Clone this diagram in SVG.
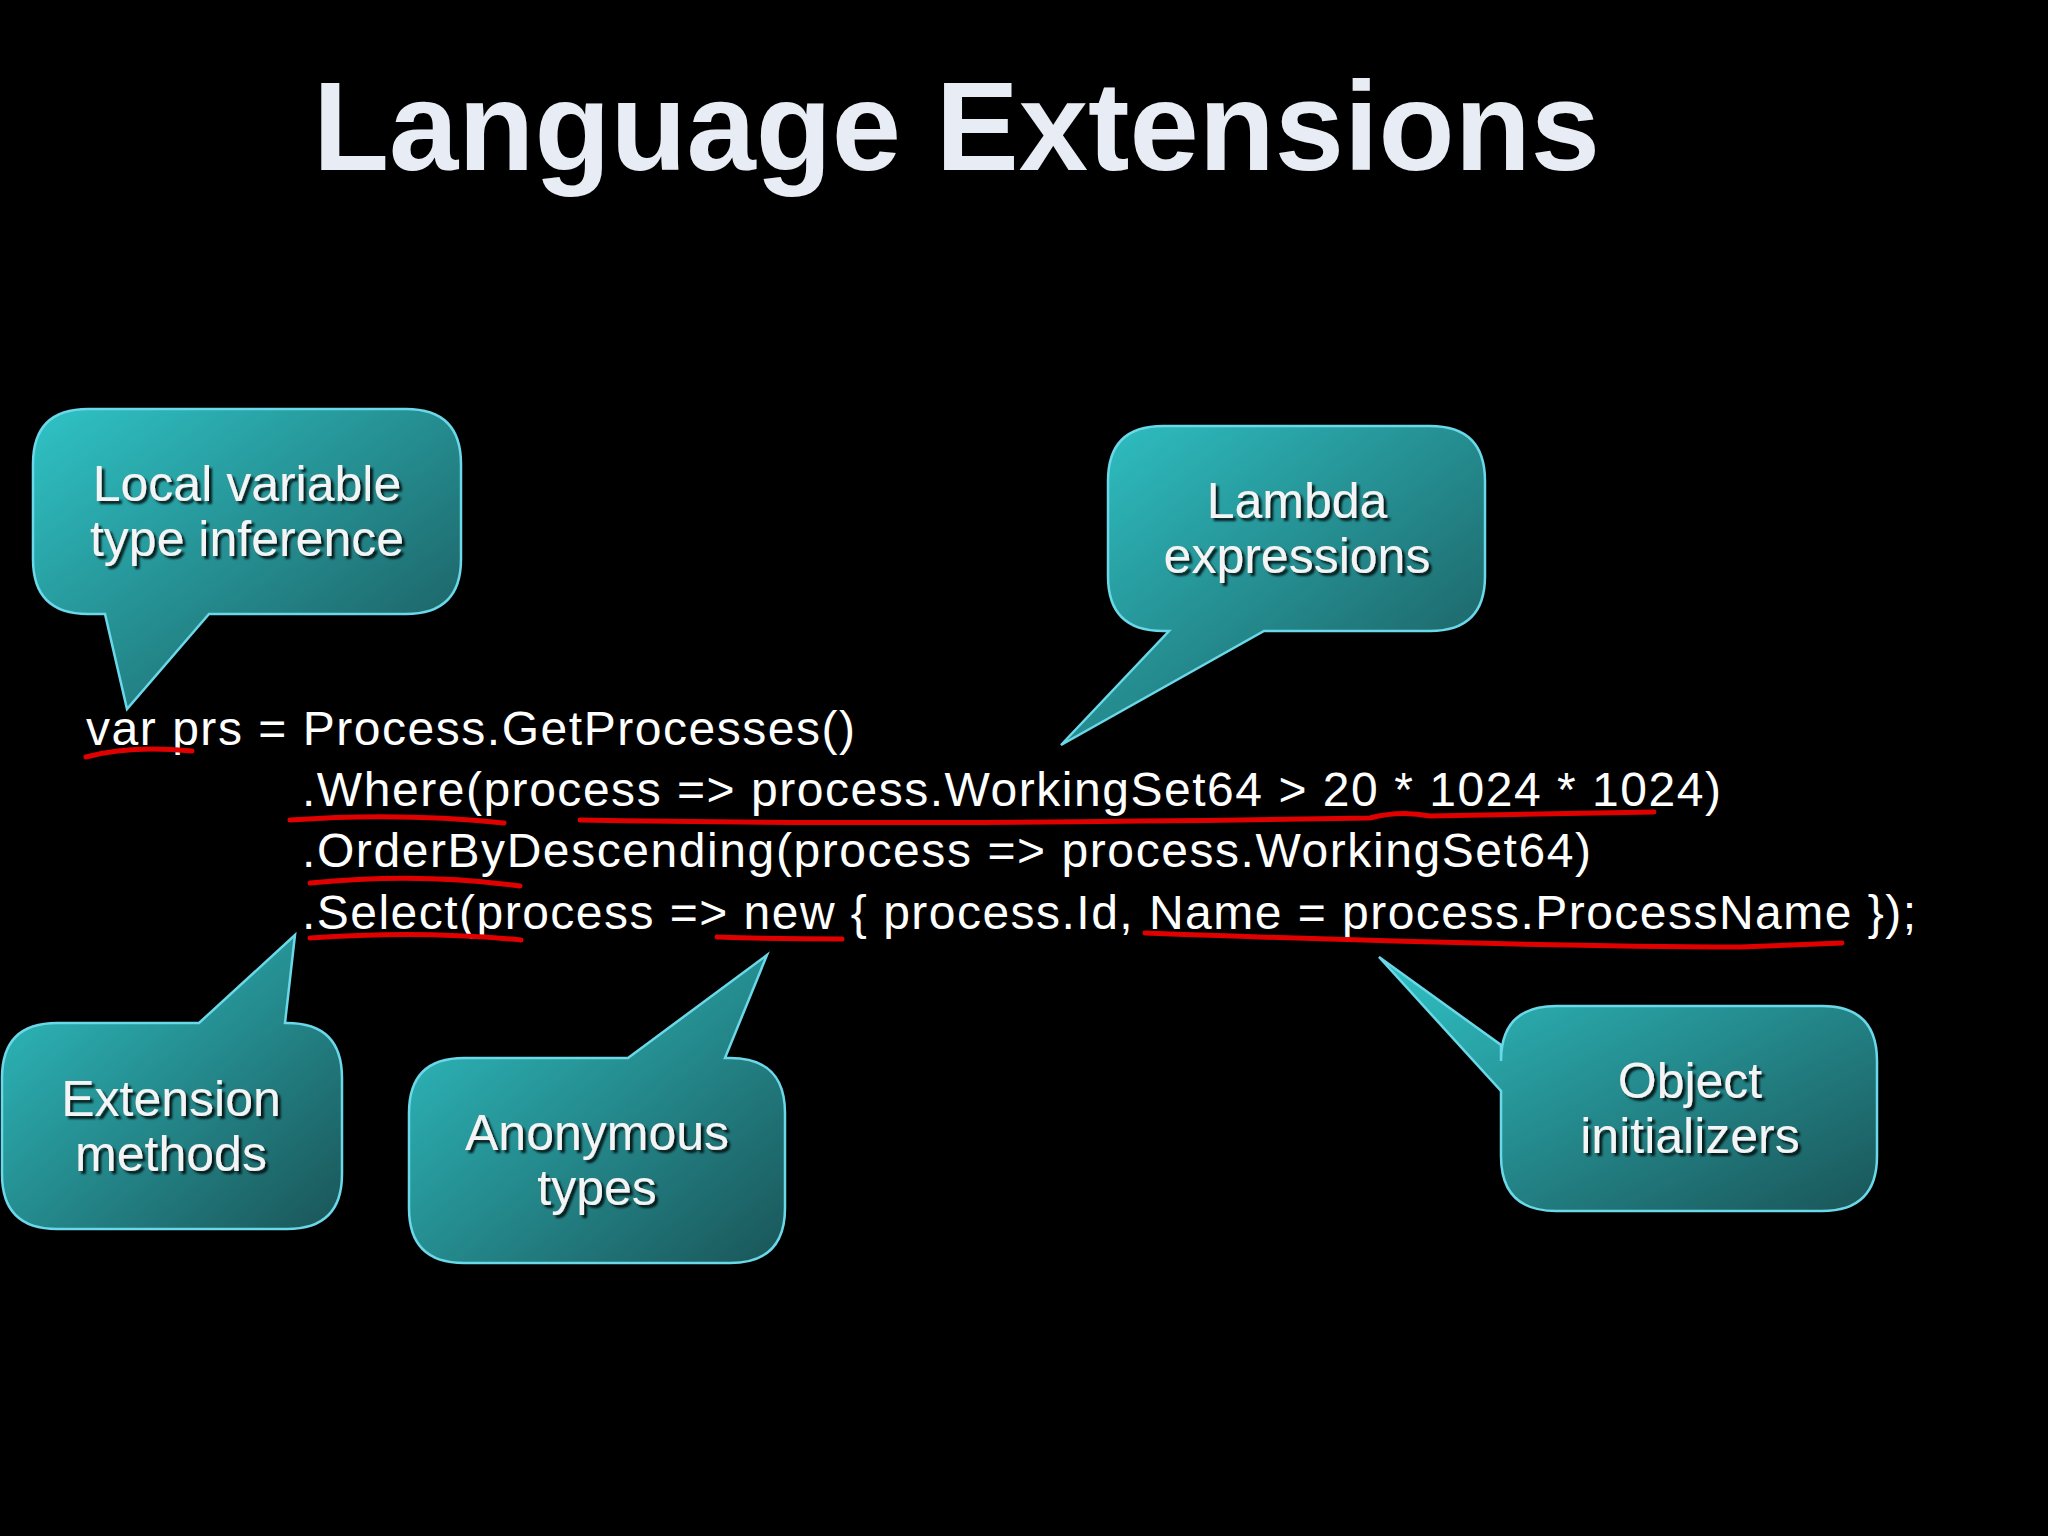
<svg xmlns="http://www.w3.org/2000/svg" width="2048" height="1536" viewBox="0 0 2048 1536">
<defs>
<linearGradient id="g" x1="0" y1="0" x2="1" y2="1">
<stop offset="0" stop-color="#2fc3c6"/><stop offset="1" stop-color="#1a5558"/>
</linearGradient>
<filter id="sh" x="-10%" y="-10%" width="120%" height="130%"><feDropShadow dx="3" dy="3" stdDeviation="1" flood-color="#000" flood-opacity="0.8"/></filter>
</defs>
<style>
.bub{fill:url(#g);stroke:#6ad8e8;stroke-width:2.5}
.bt{font-family:"Liberation Sans",Arial,sans-serif;font-size:50px;fill:#f4f4f4;text-anchor:middle;filter:url(#sh)}
.code{font-family:"Liberation Sans",Arial,sans-serif;font-size:48px;fill:#ffffff}
.ul{fill:none;stroke:#e00000;stroke-width:5;stroke-linecap:round}
</style>
<rect width="2048" height="1536" fill="#000"/>
<text x="313" y="170" font-family="Liberation Sans,Arial,sans-serif" font-weight="bold" font-size="126" fill="#e8ecf4" textLength="1287" lengthAdjust="spacingAndGlyphs">Language Extensions</text>
<g id="code">
<text class="code" x="86" y="745" textLength="769">var prs = Process.GetProcesses()</text>
<text class="code" x="302" y="806" textLength="1419">.Where(process =&gt; process.WorkingSet64 &gt; 20 * 1024 * 1024)</text>
<text class="code" x="302" y="867" textLength="1289">.OrderByDescending(process =&gt; process.WorkingSet64)</text>
<text class="code" x="302" y="929" textLength="1614">.Select(process =&gt; new { process.Id, Name = process.ProcessName });</text>
</g>
<g id="underlines">
<path class="ul" d="M86,757 Q130,745 192,751"/>
<path class="ul" d="M290,820 Q400,812 504,823"/>
<path class="ul" d="M580,820 Q900,826 1370,818 Q1400,810 1430,816 L1654,812"/>
<path class="ul" d="M310,883 Q420,872 520,886"/>
<path class="ul" d="M310,938 Q420,930 521,940"/>
<path class="ul" d="M717,937 Q780,939 842,939"/>
<path class="ul" d="M1145,933 Q1500,946 1740,947 L1842,943"/>
</g>
<g id="n1"><path class="bub" d="M88,409 H406 Q461,409 461,464 V559 Q461,614 406,614 H209 L127,709 L105,614 H88 Q33,614 33,559 V464 Q33,409 88,409 Z"/>
<text class="bt" x="247" y="501">Local variable</text><text class="bt" x="247" y="556">type inference</text></g>
<g id="n2"><path class="bub" d="M1163,426 H1430 Q1485,426 1485,481 V576 Q1485,631 1430,631 H1264 L1061,745 L1169,631 H1163 Q1108,631 1108,576 V481 Q1108,426 1163,426 Z"/>
<text class="bt" x="1297" y="518">Lambda</text><text class="bt" x="1297" y="573">expressions</text></g>
<g id="n3"><path class="bub" d="M57,1023 H199 L295,935 L285,1023 H287 Q342,1023 342,1078 V1174 Q342,1229 287,1229 H57 Q2,1229 2,1174 V1078 Q2,1023 57,1023 Z"/>
<text class="bt" x="171" y="1116">Extension</text><text class="bt" x="171" y="1171">methods</text></g>
<g id="n4"><path class="bub" d="M464,1058 H628 L767,955 L725,1058 H730 Q785,1058 785,1113 V1208 Q785,1263 730,1263 H464 Q409,1263 409,1208 V1113 Q409,1058 464,1058 Z"/>
<text class="bt" x="597" y="1150">Anonymous</text><text class="bt" x="597" y="1205">types</text></g>
<g id="n5"><path class="bub" d="M1556,1006 H1822 Q1877,1006 1877,1061 V1156 Q1877,1211 1822,1211 H1556 Q1501,1211 1501,1156 V1091 L1379,957 L1501,1045 V1061 Q1501,1006 1556,1006 Z"/>
<text class="bt" x="1690" y="1098">Object</text><text class="bt" x="1690" y="1153">initializers</text></g>
</svg>
